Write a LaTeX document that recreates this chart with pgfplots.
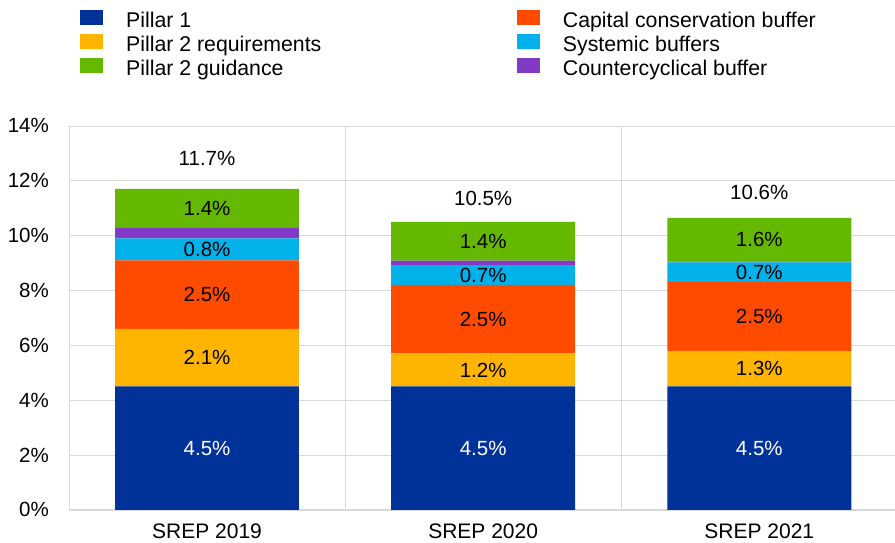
\documentclass[border=0pt]{standalone}
\usepackage{pgfplots}
\pgfplotsset{compat=1.18}
\usepackage{fontspec}
\setmainfont{Liberation Sans}
\definecolor{cBlue}{RGB}{0,50,153}
\definecolor{cYellow}{RGB}{255,180,0}
\definecolor{cGreen}{RGB}{101,184,0}
\definecolor{cOrange}{RGB}{255,75,0}
\definecolor{cCyan}{RGB}{0,177,234}
\definecolor{cPurple}{RGB}{129,57,198}
\definecolor{gridgray}{RGB}{217,217,217}
\pgfplotsset{sqleg/.style={legend image code/.code={\fill[##1] (0pt,-1.7pt) rectangle (23pt,13.3pt);\path (46pt,0pt);}}}
\pgfplotstableread{
x  p1  p2r  ccb  sys  ccyb  p2g
0  4.5 2.1  2.5  0.8  0.4   1.4
1  4.5 1.2  2.5  0.72 0.17  1.41
2  4.5 1.3  2.5  0.72 0.03  1.6
}\datatable
\begin{document}
\begin{tikzpicture}[font=\fontsize{20.5}{24}\selectfont]
\begin{axis}[
  scale only axis, width=826pt, height=384pt,
  ybar stacked, bar width=0.666,
  xmin=-0.5, xmax=2.49, ymin=0, ymax=14,
  xtick={0,1,2}, xticklabels={SREP 2019,SREP 2020,SREP 2021},
  minor xtick={0.5,1.5}, xminorgrids=true,
  ytick={0,2,...,14}, ymajorgrids=true,
  yticklabel={\pgfmathprintnumber{\tick}\%},
  /pgf/number format/assume math mode=true,
  major tick length=0pt, minor tick length=0pt,
  axis lines=left, axis line style={gridgray, -},
  grid style={gridgray, line width=0.8pt},
  minor grid style={gridgray, line width=0.8pt},
  yticklabel style={anchor=east, inner sep=0pt, xshift=-20pt},
  xticklabel style={anchor=north, inner sep=0pt, yshift=-14pt, font=\fontsize{21}{24}\selectfont},
  legend columns=2,
  legend style={at={(0,1)}, anchor=north west, xshift=11pt, yshift=116pt,
    draw=none, fill=none, inner sep=0pt, row sep=-0.8pt, column sep=0pt,
    font=\fontsize{21.3}{24}\selectfont,
    nodes={inner sep=0pt, text height=16pt, text depth=7pt}},
  legend cell align=left,
]
\addlegendimage{sqleg, fill=cBlue, draw=none}
\addlegendentry{\makebox[391pt][l]{Pillar 1}}
\addlegendimage{sqleg, fill=cOrange, draw=none}
\addlegendentry{Capital conservation buffer}
\addlegendimage{sqleg, fill=cYellow, draw=none}
\addlegendentry{\makebox[391pt][l]{Pillar 2 requirements}}
\addlegendimage{sqleg, fill=cCyan, draw=none}
\addlegendentry{Systemic buffers}
\addlegendimage{sqleg, fill=cGreen, draw=none}
\addlegendentry{\makebox[391pt][l]{Pillar 2 guidance}}
\addlegendimage{sqleg, fill=cPurple, draw=none}
\addlegendentry{Countercyclical buffer}

\pgfplotsset{seglabel/.style={point meta=rawy,
   nodes near coords={\pgfmathprintnumber[fixed,precision=1,zerofill]{\pgfplotspointmeta}\%},
   every node near coord/.append style={anchor=center, inner sep=0pt, text=#1}}}

\addplot[fill=cBlue, draw=none, seglabel=white] table[x=x,y=p1]{\datatable};
\addplot[fill=cYellow, draw=none, seglabel=black] table[x=x,y=p2r]{\datatable};
\addplot[fill=cOrange, draw=none, seglabel=black] table[x=x,y=ccb]{\datatable};
\addplot[fill=cCyan, draw=none, seglabel=black] table[x=x,y=sys]{\datatable};
\addplot[fill=cPurple, draw=none] table[x=x,y=ccyb]{\datatable};
\addplot[fill=cGreen, draw=none, seglabel=black] table[x=x,y=p2g]{\datatable};
\addplot[fill=none, draw=none, point meta=explicit symbolic, nodes near coords,
   every node near coord/.append style={anchor=center, inner sep=0pt, text=black}]
   table[x=x,y=gap,meta=lab]{
x gap lab
0 2.26 11.7\%
1 1.70 10.5\%
2 1.84 10.6\%
};
\end{axis}
\path ([xshift=-69pt,yshift=-33pt]current axis.south west) rectangle ([yshift=126pt]current axis.north east);
\end{tikzpicture}
\end{document}
